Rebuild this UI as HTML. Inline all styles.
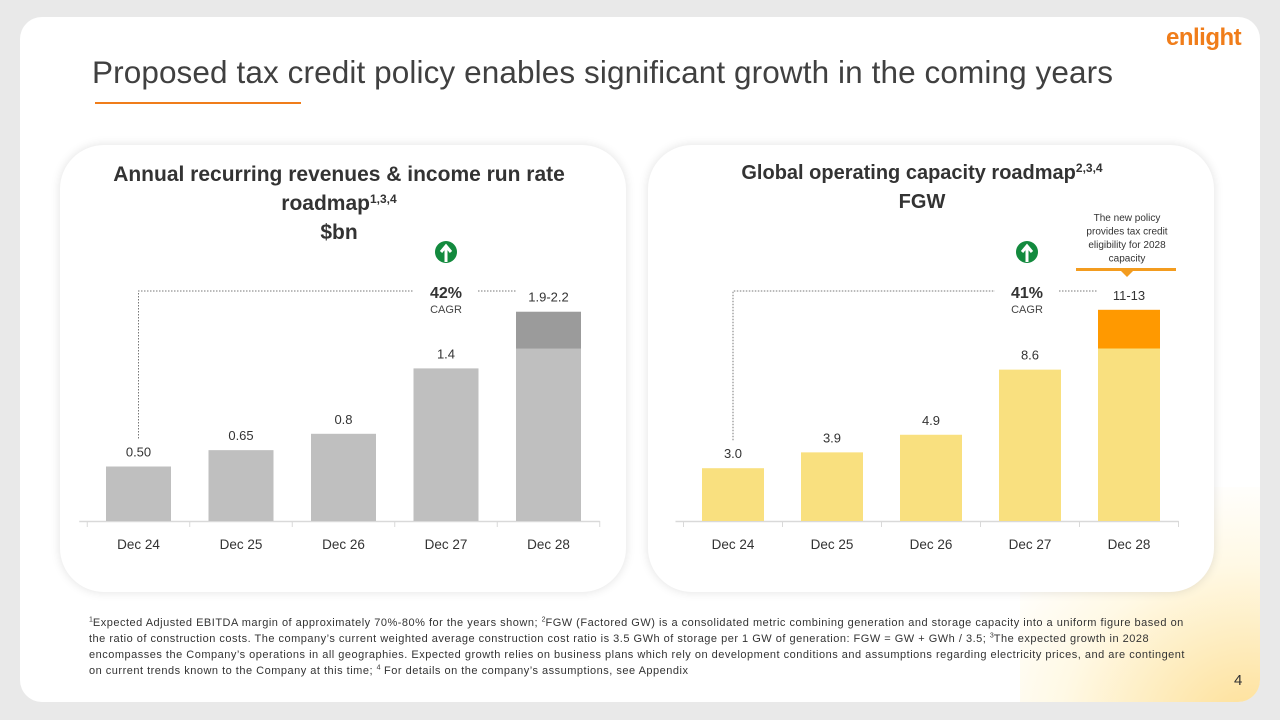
<!DOCTYPE html>
<html><head><meta charset="utf-8">
<style>
html,body{margin:0;padding:0;width:1280px;height:720px;overflow:hidden;background:#e9e9e9;font-family:"Liberation Sans",sans-serif;}
#slide{position:absolute;left:20px;top:17px;width:1240px;height:685px;background:#fff;border-radius:22px;overflow:hidden;}
#blob{position:absolute;left:1000px;top:470px;width:240px;height:215px;background:radial-gradient(ellipse 420px 360px at 230px 240px,rgba(252,196,60,0.55),rgba(255,230,150,0.25) 45%,rgba(255,255,255,0) 70%);}
#title{position:absolute;left:72px;top:37px;font-size:31.5px;color:#404040;white-space:nowrap;letter-spacing:0.1px;}
#uline{position:absolute;left:75px;top:85px;width:206px;height:2px;background:#f07d1a;}
#logo{position:absolute;left:1146px;top:7px;font-size:24px;font-weight:bold;color:#f07d1a;letter-spacing:-0.5px;}
.panel{position:absolute;top:128px;width:566px;height:447px;background:#fff;border-radius:44px;box-shadow:0 0 10px rgba(0,0,0,0.12);}
#foot{position:absolute;left:69px;top:598px;font-size:11px;line-height:16px;color:#333;white-space:nowrap;letter-spacing:0.5px;}
#foot sup{font-size:7px;line-height:0;letter-spacing:0;}
#pnum{position:absolute;left:1214px;top:655px;font-size:15px;color:#333;}
svg{position:absolute;left:0;top:0;}
</style></head><body>
<div id="slide">
<div id="blob"></div>
<div id="title">Proposed tax credit policy enables significant growth in the coming years</div>
<div id="uline"></div>
<div id="logo">enlight</div>
<div class="panel" style="left:40px"></div>
<div class="panel" style="left:628px"></div>
<div id="foot"><sup>1</sup>Expected Adjusted EBITDA margin of approximately 70%-80% for the years shown; <sup>2</sup>FGW (Factored GW) is a consolidated metric combining generation and storage capacity into a uniform figure based on<br>the ratio of construction costs. The company’s current weighted average construction cost ratio is 3.5 GWh of storage per 1 GW of generation: FGW = GW + GWh / 3.5; <sup>3</sup>The expected growth in 2028<br>encompasses the Company’s operations in all geographies. Expected growth relies on business plans which rely on development conditions and assumptions regarding electricity prices, and are contingent<br>on current trends known to the Company at this time; <sup>4</sup> For details on the company’s assumptions, see Appendix</div>
<div id="pnum">4</div>
</div>
<svg id="chart" width="1280" height="720"></svg>
<script>
const categories = ["Dec 24","Dec 25","Dec 26","Dec 27","Dec 28"];
const revBase = [0.50,0.65,0.80,1.40,1.58];
const revExtra = [0,0,0,0,0.34];
const revLabels = ["0.50","0.65","0.8","1.4","1.9-2.2"];
const capBase = [3.0,3.9,4.9,8.6,9.8];
const capExtra = [0,0,0,0,2.2];
const capLabels = ["3.0","3.9","4.9","8.6","11-13"];

const NS="http://www.w3.org/2000/svg";
const svg=document.getElementById('chart');
function mk(tag,attrs,parent){const e=document.createElementNS(NS,tag);for(const k in attrs)e.setAttribute(k,attrs[k]);(parent||svg).appendChild(e);return e;}
function txt(x,y,s,size,fill,weight,anchor){const t=mk('text',{x:x,y:y,'font-size':size,fill:fill,'font-weight':weight||'normal','text-anchor':anchor||'middle','font-family':'"Liberation Sans",sans-serif'});t.textContent=s;return t;}

function drawChart(cfg){
  const base=cfg.base, extra=cfg.extra;
  const yScale=v=>cfg.y0 - v*cfg.k;
  const xBand=i=>cfg.x0 + i*cfg.step;
  const g=mk('g',{});
  
  
  const gap=(cfg.step-cfg.bw)/2;
  const ax=mk('line',{x1:xBand(0)-gap-8,x2:xBand(5)-gap,y1:cfg.y0+0.5,y2:cfg.y0+0.5,stroke:'#d9d9d9','stroke-width':1.5},g);
  
  
  for(let i=0;i<=categories.length;i++){
    const tx=xBand(i)-gap;
    const tk=mk('line',{x1:tx,x2:tx,y1:cfg.y0,y2:cfg.y0+6,stroke:'#d9d9d9'},g);
    
    
  }
  categories.forEach((c,i)=>{
    const x=xBand(i);
    const b=mk('rect',{x:x,y:yScale(base[i]),width:cfg.bw,height:base[i]*cfg.k,fill:cfg.c1},g);
    
    
    if(extra[i]>0){
      const e=mk('rect',{x:x,y:yScale(base[i]+extra[i]),width:cfg.bw,height:extra[i]*cfg.k,fill:cfg.c2},g);
      
      
    }
    const l=txt(x+cfg.bw/2,yScale(base[i]+extra[i])-10,cfg.labels[i],13,'#333','normal','middle');
    g.appendChild(l);
    
    
    const cl=txt(x+cfg.bw/2,cfg.y0+28,c,13.5,'#333','normal','middle');
    g.appendChild(cl);
    
    
  });
  const yTop=cfg.cagrY;
  const x1=xBand(0)+cfg.bw/2, x4=xBand(4);
  const ly=yScale(base[0])-28;
  const d=mk('path',{d:`M${x1},${ly} V${yTop} H${cfg.cagrX-32} M${cfg.cagrX+32},${yTop} H${x4}`,fill:'none',stroke:'#777','stroke-dasharray':'1.5,1.5','stroke-width':1},g);
  
  
  const pct=txt(cfg.cagrX,yTop+7,cfg.cagr,16,'#333','bold','middle');g.appendChild(pct);
  
  
  const cg=txt(cfg.cagrX,yTop+22,'CAGR',11,'#444','normal','middle');g.appendChild(cg);
  
  
  const ic=mk('g',{},g);
  
  
  mk('circle',{cx:cfg.cagrX,cy:yTop-39,r:11,fill:'#138a3e'},ic);
  mk('path',{d:`M${cfg.cagrX-5},${yTop-39} L${cfg.cagrX},${yTop-45} L${cfg.cagrX+5},${yTop-39} M${cfg.cagrX},${yTop-44} V${yTop-29}`,stroke:'#fff','stroke-width':3,fill:'none'},ic);
  cfg.title.forEach((t,j)=>{
    const tt=txt(cfg.titleX,cfg.titleY+j*29,'',cfg.tsize,'#333','bold','middle');g.appendChild(tt);
    tt.innerHTML=t;
    
    
  });
}
drawChart({name:'revenue-chart',base:revBase,extra:revExtra,labels:revLabels,x0:106,step:102.5,bw:65,y0:521,k:109,c1:'#bfbfbf',c2:'#9b9b9b',cagrX:446,cagrY:291,cagr:'42%',titleX:339,titleY:181,tsize:21,
 title:['Annual recurring revenues &amp; income run rate','roadmap<tspan font-size="12" dy="-7">1,3,4</tspan>','$bn']});
drawChart({name:'capacity-chart',base:capBase,extra:capExtra,labels:capLabels,x0:702,step:99,bw:62,y0:521,k:17.6,c1:'#f9e07f',c2:'#ff9900',cagrX:1027,cagrY:291,cagr:'41%',titleX:922,titleY:179,tsize:20,
 title:['Global operating capacity roadmap<tspan font-size="12" dy="-7">2,3,4</tspan>','FGW']});
const note=mk('g',{});


['The new policy','provides tax credit','eligibility for 2028','capacity'].forEach((s,j)=>{const t=txt(1127,221+j*13.5,s,10,'#333','normal','middle');note.appendChild(t);});
mk('rect',{x:1076,y:268,width:100,height:3,fill:'#f39c1f'},note);
mk('path',{d:'M1121,271 L1127,277 L1133,271 Z',fill:'#f39c1f'},note);
</script>
</body></html>
